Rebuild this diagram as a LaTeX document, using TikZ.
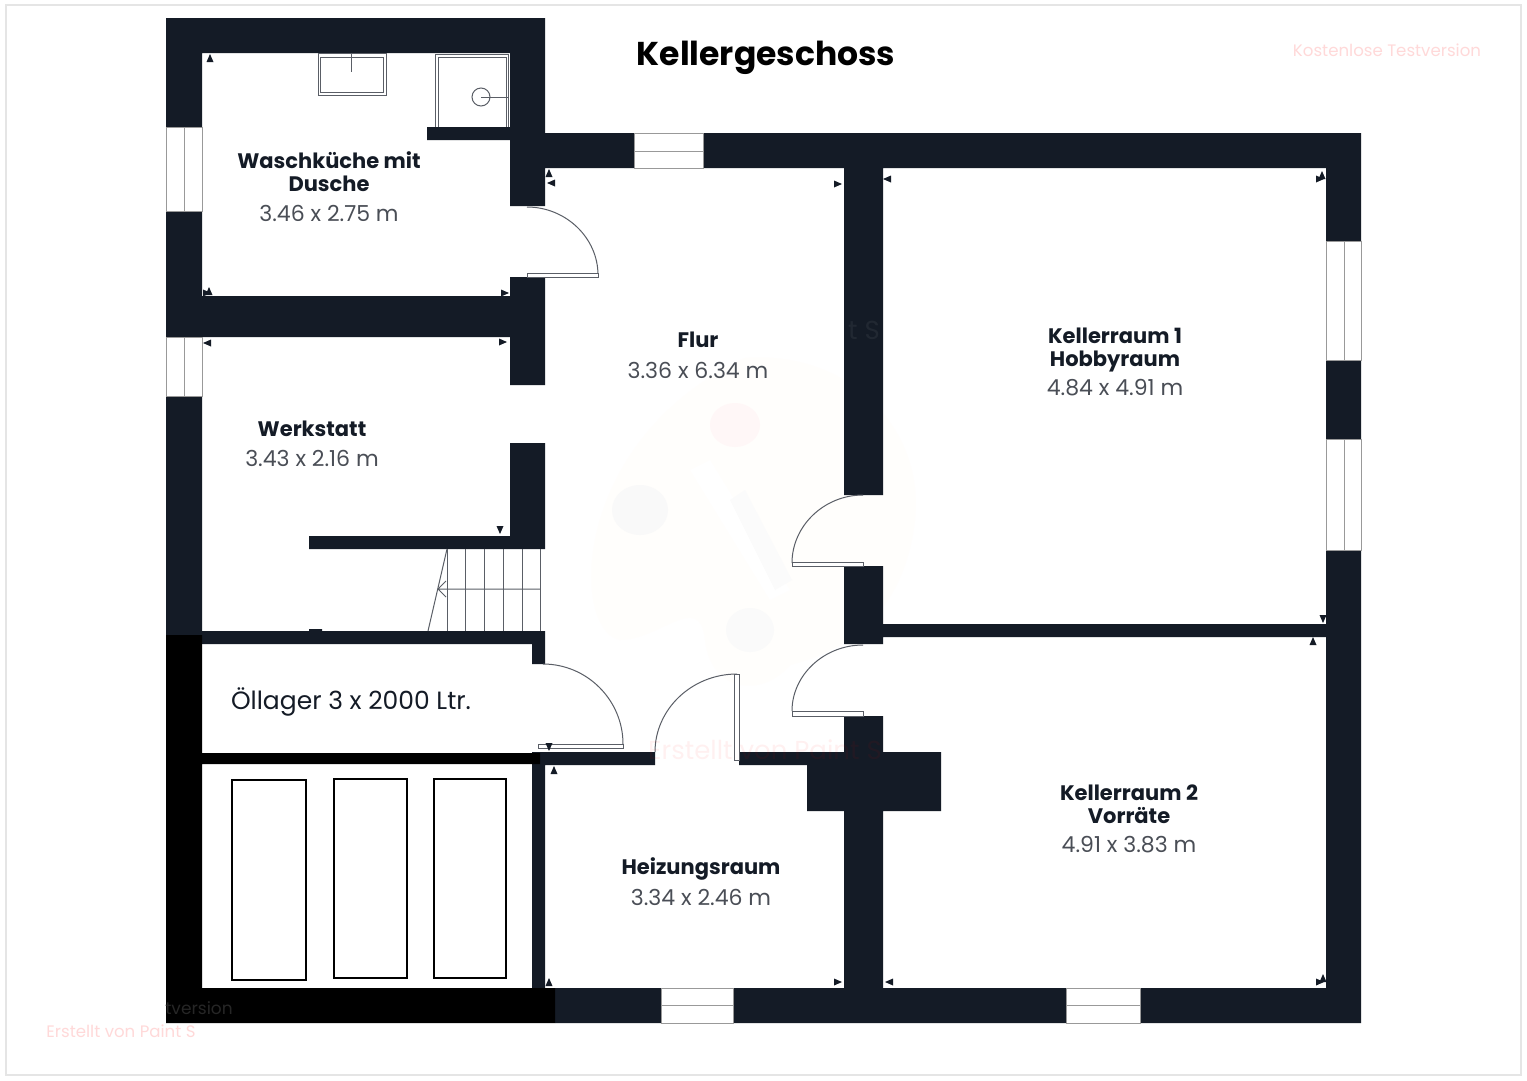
\documentclass[tikz,border=0pt]{standalone}
\usepackage{fontspec}
\setmainfont{Poppins}
\definecolor{wallc}{HTML}{141B26}
\definecolor{linec}{HTML}{5A5E66}
\definecolor{sizec}{HTML}{4A4E56}
\definecolor{markc}{HTML}{FFD9D9}
\tikzset{
	wall/.style={fill=wallc},
	thin line/.style={draw=linec, line width=1pt},
	window/.style={draw=gray!80, fill=white, line width=1pt},
	tank/.style={draw=black, fill=white, line width=2pt},
	roomname/.style={text=wallc, align=center, font=\fontsize{21}{23}\selectfont\bfseries},
	roomsize/.style={text=sizec, font=\fontsize{22}{24}\selectfont},
	watermark/.style={text=markc, font=\fontsize{16.6}{20}\selectfont},
}
\begin{document}
\begin{tikzpicture}[x=1pt, y=-1pt]
	\useasboundingbox (0,0) rectangle (1527,1080);
	\fill[white] (0,0) rectangle (1527,1080);
	\draw[gray!20, line width=1.5pt] (6,5) rectangle (1521,1075);
	% Palette
	\fill[orange!1] (745,358) .. controls (850,350) and (925,430) .. (915,520)
		.. controls (905,610) and (850,650) .. (790,665)
		.. controls (760,700) and (710,690) .. (705,640)
		.. controls (700,590) and (660,640) .. (620,640)
		.. controls (570,630) and (570,440) .. (745,358);
	\fill[red!3] (735,425) ellipse (25 and 22);
	\fill[gray!5] (640,510) ellipse (28 and 25);
	\fill[gray!4] (750,630) ellipse (24 and 22);
	\fill[white] (690,470) -- (710,460) -- (790,590) -- (770,600) -- cycle;
	\fill[gray!3] (730,500) -- (745,490) -- (792,580) -- (775,590) -- cycle;
	% Waende
	\fill[wall] (166,18) rectangle (545,53)
		(166,18) rectangle (202,635)
		(510,18) rectangle (545,206)
		(427,127) rectangle (510,140)
		(545,133) rectangle (1361,168)
		(166,296) rectangle (545,337)
		(510,277) rectangle (545,385)
		(510,443) rectangle (545,549)
		(309,536) rectangle (510,549)
		(202,631) rectangle (545,644)
		(309,629) rectangle (322,631)
		(532,631) rectangle (545,664)
		(532,752) rectangle (545,988)
		(545,752) rectangle (655,765)
		(739,752) rectangle (844,765)
		(807,752) rectangle (941,811)
		(844,168) rectangle (883,495)
		(844,566) rectangle (883,644)
		(844,716) rectangle (883,1023)
		(883,624) rectangle (1326,637)
		(1326,133) rectangle (1361,1023)
		(555,988) rectangle (1361,1023);
	\fill[black] (166,635) rectangle (202,1023)
		(166,988) rectangle (555,1023)
		(202,753) rectangle (540,764);
	% Fenster
	\foreach \ya/\yb in {127/211, 337/396}
		\draw[window] (166,\ya) rectangle (202,\yb) (184,\ya) -- (184,\yb);
	\foreach \ya/\yb in {241/360, 439/550}
		\draw[window] (1326,\ya) rectangle (1361,\yb) (1344,\ya) -- (1344,\yb);
	\draw[window] (634,133) rectangle (703,168) (634,151) -- (703,151);
	\foreach \xa/\xb in {661/733, 1066/1140}
		\draw[window] (\xa,988) rectangle (\xb,1023) (\xa,1005) -- (\xb,1005);
	% Waschbecken und Dusche
	\draw[thin line] (318,53) rectangle (386,95);
	\draw[thin line] (320,57) rectangle (383,92);
	\draw[thin line] (351,53) -- (351,72);
	\draw[thin line] (435,127) -- (435,54) -- (508,54) -- (508,127);
	\draw[thin line] (438,127) -- (438,57) -- (506,57) -- (506,127);
	\draw[thin line] (481,97) circle (9);
	\draw[thin line] (481,97) -- (508,97);
	% Tueren
	\draw[thin line] (527,207) .. controls (566,207) and (598,238) .. (598,275);
	\draw[thin line, fill=white] (527,273) rectangle (598,277);
	\draw[thin line] (863,495) .. controls (824,495) and (792,526) .. (792,563);
	\draw[thin line, fill=white] (792,562) rectangle (863,566);
	\draw[thin line] (863,645) .. controls (824,645) and (792,675) .. (792,711);
	\draw[thin line, fill=white] (792,711) rectangle (863,716);
	\draw[thin line] (543,664) .. controls (587,664) and (623,700) .. (623,744);
	\draw[thin line, fill=white] (538,744) rectangle (623,748);
	\draw[thin line] (737,674) .. controls (692,674) and (655,709) .. (655,752);
	\draw[thin line, fill=white] (734,674) rectangle (739,760);
	% Treppe
	\foreach \xs in {447,465,484,503,522,540}
		\draw[thin line] (\xs,549) -- (\xs,631);
	\draw[thin line] (447,549) -- (428,631);
	\draw[thin line] (540,589) -- (438,589) (446,581) -- (438,589) -- (446,597);
	% Oeltanks
	\draw[tank] (232,780) rectangle (306,980);
	\draw[tank] (334,779) rectangle (407,978);
	\draw[tank] (434,779) rectangle (506,978);
	% Messpfeile
	\foreach \px/\py/\ang in {210/58/0, 207/293/270, 209/291/0, 505/293/270, 207/343/90, 503/342/270,
		549/173/0, 551/183/90, 838/184/270, 887/179/90, 1322/175/0, 1320/179/270,
		1323/619/180, 1313/641/0, 500/530/180, 549/747/180, 554/770/0, 549/982/0,
		838/982/270, 889/982/90, 1320/982/270, 1323/978/0}
		\fill[wall, shift={(\px,\py)}, rotate=\ang] (-3.5,4) -- (3.5,4) -- (0,-4) -- cycle;
	% Raeume
	\node[roomname] (waschname) at (329,172) {Waschküche mit\\Dusche};
	\node[roomsize] (waschsize) at (329,213) {3.46 x 2.75 m};
	\node[roomname] (flurname) at (698,340) {Flur};
	\node[roomsize] (flursize) at (698,370) {3.36 x 6.34 m};
	\node[roomname] (kelleronename) at (1115,350) {Kellerraum 1\\Hobbyraum};
	\node[roomsize] (kelleronesize) at (1115,388) {4.84 x 4.91 m};
	\node[roomname] (werkname) at (312,429) {Werkstatt};
	\node[roomsize] (werksize) at (312,458) {3.43 x 2.16 m};
	\node[roomname] (heizname) at (701,869) {Heizungsraum};
	\node[roomsize] (heizsize) at (701,897) {3.34 x 2.46 m};
	\node[roomname] (kellertwoname) at (1129,804) {Kellerraum 2\\Vorräte};
	\node[roomsize] (kellertwosize) at (1129,845) {4.91 x 3.83 m};
	\node[text=wallc, font=\fontsize{25}{28}\selectfont] (oellager) at (351,702) {Öllager 3 x 2000 Ltr.};
	\node[text=black, font=\fontsize{33}{36}\selectfont\bfseries] (titel) at (766,58) {Kellergeschoss};
	% Wasserzeichen
	\node[watermark] (testversion) at (1387,50) {Kostenlose Testversion};
	\node[watermark] (erstellt) at (121,1031) {Erstellt von Paint S};
	\node[text=white!15!black, font=\fontsize{17}{20}\selectfont] (restversion) at (199,1008) {tversion};
	\node[text=red, opacity=0.06, font=\fontsize{26}{28}\selectfont] (erstelltmitte) at (765,750) {Erstellt von Paint S};
	\node[text=white, opacity=0.06, font=\fontsize{26}{28}\selectfont] (restmitte) at (864,330) {t S};
\end{tikzpicture}
\end{document}
